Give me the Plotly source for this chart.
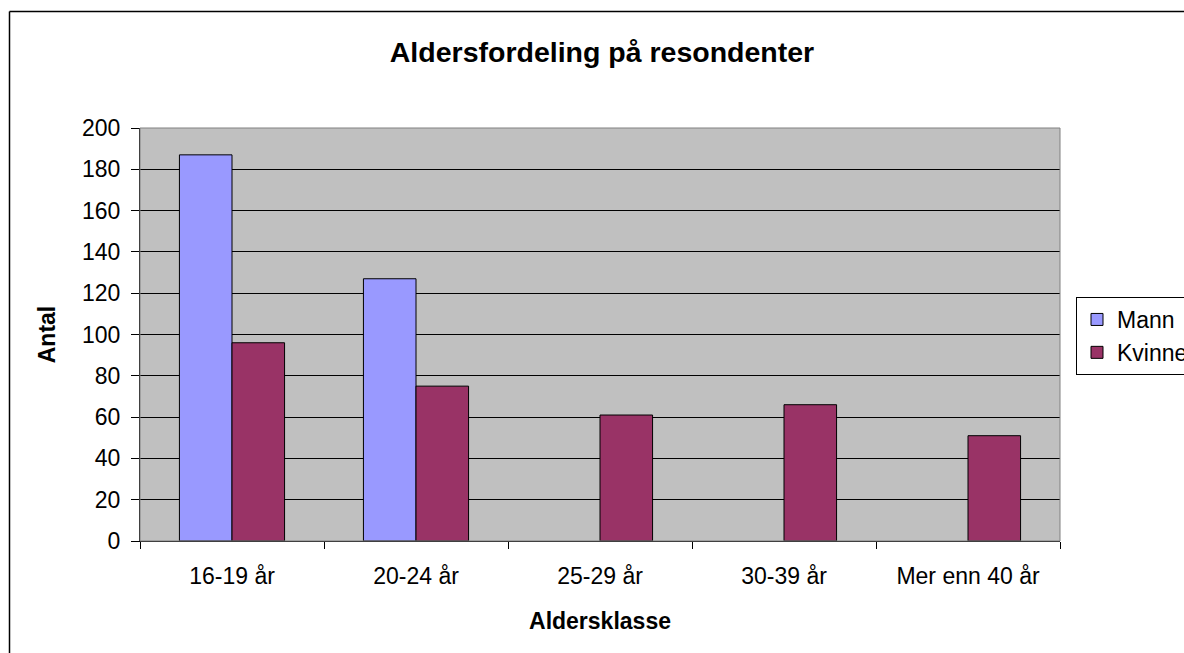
import plotly.graph_objects as go

categories = ["16-19 år", "20-24 år", "25-29 år", "30-39 år", "Mer enn 40 år"]
mann = [187, 127, None, None, None]
kvinne = [96, 75, 61, 66, 51]
y_ticks = [0, 20, 40, 60, 80, 100, 120, 140, 160, 180, 200]

FONT = "Liberation Sans, Arial, sans-serif"

fig = go.Figure()
fig.add_trace(go.Bar(x=categories, y=mann, name="Mann", legendgroup="a",
                     marker=dict(color="#9999FF", line=dict(color="black", width=1))))
fig.add_trace(go.Bar(x=categories, y=kvinne, name="Kvinne", legendgroup="b",
                     marker=dict(color="#993366", line=dict(color="black", width=1))))

W, H = 1184, 653
L, R, T, B = 140, 1184 - 1060, 128, 653 - 541
pw, ph = W - L - R, H - T - B

def sx(x):  # screen x -> paper
    return (x - L) / pw

def sy(y):  # screen y -> paper
    return (H - B - y) / ph

fig.update_layout(
    width=W, height=H,
    margin=dict(l=L, r=R, t=T, b=B, pad=0, autoexpand=False),
    paper_bgcolor="white", plot_bgcolor="#C0C0C0",
    font=dict(family=FONT, size=23, color="black"),
    barmode="group", bargap=1.5 / 3.5, bargroupgap=0,
    title=dict(text="<b>Aldersfordeling på resondenter</b>", x=602 / W, xanchor="center",
               y=1 - 52 / H, yanchor="middle", font=dict(size=28.5, family=FONT)),
    legend=dict(xref="container", yref="container",
                x=1076 / W, xanchor="left", y=1 - 297 / H, yanchor="top",
                bordercolor="black", borderwidth=1, bgcolor="white",
                font=dict(size=23, family=FONT), tracegroupgap=0,
                itemwidth=30),
    showlegend=True,
)
fig.update_xaxes(
    type="category", tickson="boundaries", ticks="outside", ticklen=7, tickcolor="black",
    showline=True, linecolor="black", linewidth=1, mirror=False,
    showgrid=False, ticklabelstandoff=14,
    tickfont=dict(size=23, family=FONT),
    title=dict(text="<b>Aldersklasse</b>", font=dict(size=23, family=FONT), standoff=25),
)
fig.update_yaxes(
    range=[0, 200], tickvals=y_ticks, ticks="outside", ticklen=8, tickcolor="black",
    showline=True, linecolor="black", linewidth=1,
    showgrid=True, gridcolor="black", gridwidth=1,
    zeroline=False, ticklabelstandoff=6,
    tickfont=dict(size=23, family=FONT),
    title=dict(text="<b>Antal</b>", font=dict(size=23, family=FONT), standoff=19),
)
# plot area border (top/right, gray)
fig.add_shape(type="rect", xref="paper", yref="paper", x0=0, y0=0, x1=1, y1=1,
              line=dict(color="#808080", width=1), layer="above")
# outer chart border (left and top edges visible)
fig.add_shape(type="line", xref="paper", yref="paper",
              x0=sx(9.5), y0=sy(700), x1=sx(9.5), y1=sy(11.5),
              line=dict(color="black", width=1.5), layer="above")
fig.add_shape(type="line", xref="paper", yref="paper",
              x0=sx(9.5), y0=sy(11.5), x1=sx(1300), y1=sy(11.5),
              line=dict(color="black", width=1.5), layer="above")

fig.write_html(
    "out.html",
    config={"displayModeBar": False},
    post_script="document.body.style.margin='0';document.body.style.overflow='hidden';",
)
